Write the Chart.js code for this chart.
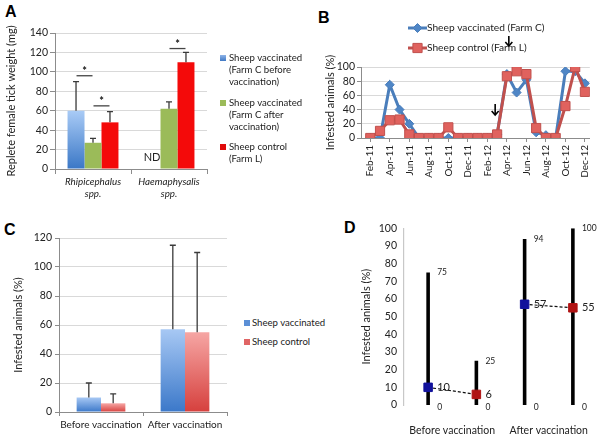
<!DOCTYPE html>
<html><head><meta charset="utf-8">
<script src="https://cdn.jsdelivr.net/npm/chart.js@4.4.0/dist/chart.umd.min.js"></script>
<style>
body{margin:0;background:#fff;width:600px;height:435px;position:relative;overflow:hidden;font-family:Lato,sans-serif;color:#222}
canvas{position:absolute}
.lbl{position:absolute;font:bold 16px "Liberation Sans",Arial,sans-serif;color:#000}
.leg{position:absolute;font:9.6px Lato,sans-serif;line-height:12.4px;color:#222;white-space:nowrap}
.sw{position:absolute;width:6px;height:6px}
</style></head><body>
<div class="lbl" style="left:5px;top:3px">A</div>
<div class="lbl" style="left:318px;top:9px">B</div>
<div class="lbl" style="left:4px;top:221px">C</div>
<div class="lbl" style="left:344px;top:219px">D</div>

<canvas id="cA" width="215" height="200" style="left:0;top:0"></canvas>
<canvas id="cB" width="300" height="200" style="left:300px;top:0"></canvas>
<canvas id="cC" width="240" height="220" style="left:0;top:215px"></canvas>
<canvas id="cD" width="270" height="220" style="left:330px;top:215px"></canvas>

<div id="legA"></div>
<div id="legC"></div>

<script>
// ---------- Panel A data ----------
const speciesLabels = [['Rhipicephalus', 'spp.'], ['Haemaphysalis', 'spp.']];
const seriesA = ['Sheep vaccinated (Farm C before vaccination)', 'Sheep vaccinated (Farm C after vaccination)', 'Sheep control (Farm L)'];
const seriesALines = [['Sheep vaccinated', '(Farm C before', 'vaccination)'], ['Sheep vaccinated', '(Farm C after', 'vaccination)'], ['Sheep control', '(Farm L)']];
const weightBefore = [60, null];
const weightBeforeErr = [30, null];
const weightAfter = [27, 62];
const weightAfterErr = [4.5, 7];
const weightControl = [48, 110];
const weightControlErr = [11, 10];
const sigBrackets = [[0, 0, 1, 96], [0, 1, 2, 65], [1, 1, 2, 124]]; // [category, seriesA, seriesB, value]

// ---------- Panel B data ----------
const months = ['Feb-11','Mar-11','Apr-11','May-11','Jun-11','Jul-11','Aug-11','Sep-11','Oct-11','Nov-11','Dec-11','Jan-12',
                'Feb-12','Mar-12','Apr-12','May-12','Jun-12','Jul-12','Aug-12','Sep-12','Oct-12','Nov-12','Dec-12'];
const seriesB = ['Sheep vaccinated (Farm C)', 'Sheep control (Farm L)'];
const vaccinatedFarmC = [0, 0, 75, 40, 20, 0, 0, 0, 0, 0, 0, 0, 0, 5, 90, 64, 82, 8, 4, 0, 94, 94, 77];
const controlFarmL   = [0, 10, 25, 26, 5, 0, 0, 0, 15, 0, 0, 0, 0, 5, 87, 94, 90, 14, 0, 0, 45, 100, 65];
const vaccinationArrows = [14.2, 12.8]; // month index positions of the arrows

// ---------- Panel C data ----------
const periods = ['Before vaccination', 'After vaccination'];
const seriesC = ['Sheep vaccinated', 'Sheep control'];
const infestVacc = [10, 57];
const infestVaccErr = [10, 58];
const infestCtrl = [6, 55];
const infestCtrlErr = [6.5, 55];

// ---------- Panel D data ----------
const dMeanVacc = [10, 57];
const dMeanCtrl = [6, 55];
const dMinVacc = [0, 0];
const dMaxVacc = [75, 94];
const dMinCtrl = [0, 0];
const dMaxCtrl = [25, 100];

const FONT = 'Lato, sans-serif';
const TXT = '#222';
Chart.defaults.font.family = FONT;
Chart.defaults.color = TXT;
Chart.defaults.animation = false;

function fixWidth(w) { return s => { s.width = w; }; }
function fixHeight(h) { return s => { s.height = h; }; }

function gradientFill(top, bottom, fallback) {
  return (ctx) => {
    const chart = ctx.chart;
    if (!chart.chartArea || ctx.raw == null || !chart.scales.y) return fallback;
    const y = chart.scales.y;
    const v = Array.isArray(ctx.raw) ? ctx.raw[1] : ctx.raw;
    const p0 = y.getPixelForValue(v), p1 = y.getPixelForValue(0);
    if (!isFinite(p0) || p1 - p0 < 1) return fallback;
    const g = chart.ctx.createLinearGradient(0, p0, 0, p1);
    g.addColorStop(0, top); g.addColorStop(1, bottom);
    return g;
  };
}

const errorBarPlugin = {
  id: 'errorBars',
  afterDatasetsDraw(chart, args, opts) {
    const c = chart.ctx, y = chart.scales.y;
    c.save();
    c.strokeStyle = opts.color || '#333'; c.lineWidth = opts.width || 1.2;
    opts.errs.forEach((errs, i) => {
      const meta = chart.getDatasetMeta(i);
      const data = chart.data.datasets[i].data;
      meta.data.forEach((bar, j) => {
        if (data[j] == null || errs[j] == null) return;
        const top = y.getPixelForValue(data[j] + errs[j]);
        c.beginPath();
        c.moveTo(bar.x, bar.y); c.lineTo(bar.x, top);
        c.moveTo(bar.x - opts.cap, top); c.lineTo(bar.x + opts.cap, top);
        c.stroke();
      });
    });
    c.restore();
  }
};

// ---------- Chart A ----------
new Chart(document.getElementById('cA'), {
  type: 'bar',
  data: {
    labels: speciesLabels,
    datasets: [
      { label: seriesA[0], data: weightBefore, backgroundColor: gradientFill('#a9cbf6', '#3a77c6', '#5d8fd4') },
      { label: seriesA[1], data: weightAfter, backgroundColor: '#9bbb59' },
      { label: seriesA[2], data: weightControl, backgroundColor: '#f40a0a' }
    ]
  },
  options: {
    responsive: false,
    layout: { autoPadding: false, padding: { left: 3, right: 8, top: 33, bottom: 0 } },
    categoryPercentage: 0.67, barPercentage: 1,
    plugins: {
      legend: { display: false }, tooltip: { enabled: false },
      errorBars: { errs: [weightBeforeErr, weightAfterErr, weightControlErr], cap: 3, color: '#3a3a3a', width: 1.3 },
    },
    scales: {
      x: {
        afterFit: fixHeight(31),
        grid: { display: true, drawOnChartArea: false, tickLength: 5, color: '#8c8c8c', offset: true },
        border: { color: '#8c8c8c' },
        ticks: { font: { size: 9.8, style: 'italic' }, padding: 2, color: TXT, maxRotation: 0, minRotation: 0, autoSkip: false }
      },
      y: {
        min: 0, max: 140,
        afterFit: fixWidth(52),
        grid: { color: '#d9d9d9', tickLength: 5, tickColor: '#8c8c8c' },
        border: { color: '#8c8c8c' },
        ticks: { stepSize: 20, autoSkip: false, font: { size: 10.5 }, padding: 2, color: TXT },
        title: { display: true, text: 'Replete female tick weight (mg)', font: { size: 11 }, color: TXT, padding: { top: 2, bottom: 2 } }
      }
    }
  },
  plugins: [errorBarPlugin, {
    id: 'annotA',
    afterDatasetsDraw(chart) {
      const c = chart.ctx, y = chart.scales.y;
      c.save();
      c.strokeStyle = '#444'; c.lineWidth = 1.3; c.fillStyle = '#111';
      sigBrackets.forEach(([cat, a, b, v]) => {
        const xa = chart.getDatasetMeta(a).data[cat].x, xb = chart.getDatasetMeta(b).data[cat].x;
        const mid = (xa + xb) / 2, py = y.getPixelForValue(v);
        c.beginPath(); c.moveTo(mid - 8, py); c.lineTo(mid + 8, py); c.stroke();
        c.font = 'bold 11px ' + FONT; c.textAlign = 'center'; c.textBaseline = 'middle';
        c.fillText('*', mid, py - 4);
      });
      weightBefore.forEach((v, j) => {
        if (v == null) {
          const x = chart.getDatasetMeta(0).data[j].x;
          c.font = '11px ' + FONT; c.fillStyle = TXT; c.textAlign = 'center'; c.textBaseline = 'middle';
          c.fillText('ND', x, y.getPixelForValue(12));
        }
      });
      c.restore();
    }
  }]
});

// ---------- Legends (HTML) ----------
(function () {
  const colorsA = ['linear-gradient(#8fb4e8,#3f78c4)', '#9bbb59', '#e00b0b'];
  const tops = [52, 97, 141];
  let html = '';
  seriesALines.forEach((lines, i) => {
    html += `<div class="sw" style="left:220px;top:${tops[i] + 3}px;background:${colorsA[i]}"></div>`;
    html += `<div class="leg" style="left:229px;top:${tops[i] - 0.5}px">${lines.join('<br>')}</div>`;
  });
  document.getElementById('legA').innerHTML = html;
  const colorsC = ['#5b8fd6', '#e06565'];
  const topsC = [317, 336];
  let h2 = '';
  seriesC.forEach((s, i) => {
    h2 += `<div class="sw" style="left:244px;top:${topsC[i] + 3}px;background:${colorsC[i]}"></div>`;
    h2 += `<div class="leg" style="left:252px;top:${topsC[i] - 0.5}px">${s}</div>`;
  });
  document.getElementById('legC').innerHTML = h2;
})();

// ---------- Chart B ----------
function drawArrow(c, x, y1, y2) {
  c.beginPath(); c.moveTo(x, y1); c.lineTo(x, y2); c.stroke();
  c.beginPath(); c.moveTo(x - 3.5, y2 - 4); c.lineTo(x, y2); c.lineTo(x + 3.5, y2 - 4); c.stroke();
}
new Chart(document.getElementById('cB'), {
  type: 'line',
  data: {
    datasets: [
      { label: seriesB[1], order: 0, data: controlFarmL.map((v, i) => ({ x: i, y: v })),
        borderColor: '#c0504d', borderWidth: 3, pointStyle: 'rect', pointRadius: 6.5,
        pointBackgroundColor: '#e0625e', pointBorderColor: '#c0504d', pointBorderWidth: 1, tension: 0 },
      { label: seriesB[0], order: 1, data: vaccinatedFarmC.map((v, i) => ({ x: i, y: v })),
        borderColor: '#4a7ebb', borderWidth: 3, pointStyle: 'rectRot', pointRadius: 4.5,
        pointBackgroundColor: '#4f86c6', pointBorderColor: '#4a7ebb', pointBorderWidth: 1, tension: 0 }
    ]
  },
  options: {
    responsive: false,
    layout: { autoPadding: false, padding: { left: 22, right: 3, top: 67, bottom: 0 } },
    plugins: { legend: { display: false }, tooltip: { enabled: false } },
    scales: {
      x: {
        type: 'linear', min: -0.95, max: 22.5,
        afterFit: fixHeight(62),
        afterBuildTicks: s => { s.ticks = months.map((m, i) => i).filter(i => i % 2 === 0).map(v => ({ value: v })); },
        grid: { display: true, drawOnChartArea: false, tickLength: 4, color: '#8c8c8c' },
        border: { color: '#8c8c8c' },
        ticks: { autoSkip: false, minRotation: 90, maxRotation: 90, font: { size: 10 }, padding: 3, color: TXT,
                 callback: v => months[v] }
      },
      y: {
        min: 0, max: 100,
        afterFit: fixWidth(39),
        ticks: { stepSize: 20, autoSkip: false, font: { size: 10.5 }, padding: 2, color: TXT },
        grid: { color: '#d9d9d9', tickLength: 4, tickColor: '#8c8c8c' },
        border: { color: '#8c8c8c' },
        title: { display: true, text: 'Infested animals (%)', font: { size: 11 }, color: TXT, padding: { top: 2, bottom: 2 } }
      }
    }
  },
  plugins: [{
    id: 'legendB',
    afterDraw(chart) {
      const c = chart.ctx;
      c.save();
      const items = [
        { y: 28, color: '#4a7ebb', fill: '#4f86c6', style: 'rectRot', r: 4.5, text: seriesB[0] },
        { y: 48, color: '#c0504d', fill: '#e0625e', style: 'rect', r: 6.5, text: seriesB[1] }
      ];
      items.forEach(it => {
        c.strokeStyle = it.color; c.lineWidth = 3;
        c.beginPath(); c.moveTo(108, it.y); c.lineTo(127, it.y); c.stroke();
        c.fillStyle = it.fill; c.lineWidth = 1;
        Chart.helpers.drawPoint(c, { pointStyle: it.style, radius: it.r, borderWidth: 1 }, 117.5, it.y);
        c.font = '10.2px ' + FONT; c.fillStyle = TXT; c.textAlign = 'left'; c.textBaseline = 'middle';
        c.fillText(it.text, 127, it.y);
      });
      const x = chart.scales.x;
      c.strokeStyle = '#000'; c.lineWidth = 1.6;
      drawArrow(c, x.getPixelForValue(vaccinationArrows[0]), 36, 46);
      drawArrow(c, x.getPixelForValue(vaccinationArrows[1]), 104, 115);
      c.restore();
    }
  }]
});

// ---------- Chart C ----------
new Chart(document.getElementById('cC'), {
  type: 'bar',
  data: {
    labels: periods,
    datasets: [
      { label: seriesC[0], data: infestVacc, backgroundColor: gradientFill('#a7c8f4', '#3b78c9', '#5b8fd6') },
      { label: seriesC[1], data: infestCtrl, backgroundColor: gradientFill('#f6a6a4', '#d6403d', '#e06565') }
    ]
  },
  options: {
    responsive: false,
    layout: { autoPadding: false, padding: { left: 10, right: 13, top: 23, bottom: 0 } },
    categoryPercentage: 0.58, barPercentage: 1,
    plugins: {
      legend: { display: false }, tooltip: { enabled: false },
      errorBars: { errs: [infestVaccErr, infestCtrlErr], cap: 3, color: '#3a3a3a', width: 1.3 }
    },
    scales: {
      x: {
        afterFit: fixHeight(23),
        grid: { display: true, drawOnChartArea: false, tickLength: 4, color: '#8c8c8c', offset: true },
        border: { color: '#8c8c8c' },
        ticks: { font: { size: 10 }, padding: 3, color: TXT, maxRotation: 0, minRotation: 0, autoSkip: false }
      },
      y: {
        min: 0, max: 120,
        afterFit: fixWidth(49),
        ticks: { stepSize: 20, autoSkip: false, font: { size: 10.5 }, padding: 3, color: TXT },
        grid: { color: '#d9d9d9', tickLength: 4, tickColor: '#8c8c8c' },
        border: { color: '#8c8c8c' },
        title: { display: true, text: 'Infested animals (%)', font: { size: 11 }, color: TXT, padding: { top: 2, bottom: 2 } }
      }
    }
  },
  plugins: [errorBarPlugin]
});

// ---------- Chart D ----------
const dDatasets = [];
const xV = g => 2 * g + 1, xC = g => 2 * g + 2;
periods.forEach((p, g) => {
  dDatasets.push({ type: 'line', data: [{ x: xV(g), y: dMinVacc[g] }, { x: xV(g), y: dMaxVacc[g] }], borderColor: '#000', borderWidth: 3.6, pointRadius: 0, borderCapStyle: 'butt', order: 5 });
  dDatasets.push({ type: 'line', data: [{ x: xC(g), y: dMinCtrl[g] }, { x: xC(g), y: dMaxCtrl[g] }], borderColor: '#000', borderWidth: 3.6, pointRadius: 0, borderCapStyle: 'butt', order: 5 });
  dDatasets.push({ type: 'line', data: [{ x: xV(g), y: dMeanVacc[g] }, { x: xC(g), y: dMeanCtrl[g] }], borderColor: '#111', borderWidth: 1.2, borderDash: [3, 2], pointRadius: 0, order: 4 });
});
dDatasets.push({ type: 'scatter', label: seriesC[0], data: periods.map((p, g) => ({ x: xV(g), y: dMeanVacc[g] })), pointStyle: 'rect', pointRadius: 6, pointBackgroundColor: '#12129c', pointBorderColor: '#12129c', order: 1 });
dDatasets.push({ type: 'scatter', label: seriesC[1], data: periods.map((p, g) => ({ x: xC(g), y: dMeanCtrl[g] })), pointStyle: 'rect', pointRadius: 6, pointBackgroundColor: '#b01414', pointBorderColor: '#b01414', order: 0 });

new Chart(document.getElementById('cD'), {
  type: 'scatter',
  data: { datasets: dDatasets },
  options: {
    responsive: false,
    layout: { autoPadding: false, padding: { left: 28, right: 3, top: 13, bottom: 0 } },
    plugins: { legend: { display: false }, tooltip: { enabled: false } },
    scales: {
      x: {
        type: 'linear', min: 0.5, max: 4.5,
        afterFit: fixHeight(30),
        afterBuildTicks: s => { s.ticks = periods.map((p, g) => ({ value: 2 * g + 1.5 })); },
        grid: { display: false },
        border: { display: false },
        ticks: { autoSkip: false, maxRotation: 0, font: { size: 10.5 }, padding: 11, color: TXT,
                 callback: v => periods[(v - 1.5) / 2] }
      },
      y: {
        min: 0, max: 100,
        afterFit: fixWidth(46),
        ticks: { stepSize: 10, autoSkip: false, font: { size: 10.5 }, padding: 7, color: TXT },
        grid: { display: true, drawOnChartArea: false, drawTicks: false },
        border: { color: '#c8c8c8', width: 1.2 },
        title: { display: true, text: 'Infested animals (%)', font: { size: 11 }, color: TXT, padding: { top: 2, bottom: 2 } }
      }
    }
  },
  plugins: [{
    id: 'labelsD',
    afterDatasetsDraw(chart) {
      const c = chart.ctx, x = chart.scales.x, y = chart.scales.y;
      c.save();
      c.fillStyle = TXT; c.textAlign = 'left'; c.textBaseline = 'middle';
      periods.forEach((p, g) => {
        [[xV(g), dMinVacc[g], dMaxVacc[g], dMeanVacc[g]], [xC(g), dMinCtrl[g], dMaxCtrl[g], dMeanCtrl[g]]].forEach(([xv, mn, mx, mean]) => {
          const px = x.getPixelForValue(xv) + 9;
          c.font = '8.5px ' + FONT;
          c.fillText(String(mx), px, y.getPixelForValue(mx));
          c.fillText(String(mn), px, y.getPixelForValue(mn) + 2);
          c.font = '11px ' + FONT;
          c.fillText(String(mean), px, y.getPixelForValue(mean));
        });
      });
      c.restore();
    }
  }]
});
</script>
</body></html>
